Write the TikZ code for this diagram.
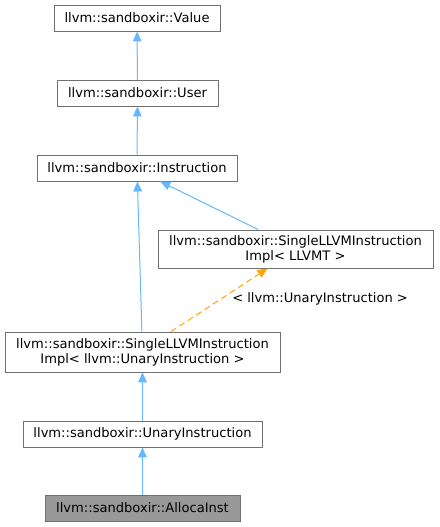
\documentclass[tikz,border=0pt]{standalone}
\usepackage{fontspec}
\setmainfont{DejaVu Sans}
\usepackage{xcolor}
\usetikzlibrary{arrows.meta}
\definecolor{edgeblue}{HTML}{63B8FF}
\definecolor{edgeorange}{HTML}{FFA500}
\definecolor{boxline}{HTML}{707070}
\definecolor{boxgray}{HTML}{999999}
\tikzset{
  classbox/.style={draw=boxline,line width=0.7pt,fill=white,inner sep=0pt,align=center,font=\fontsize{9.8}{11.4}\selectfont},
  thisbox/.style={classbox,fill=boxgray},
  inherit/.style={draw=edgeblue,line width=0.75pt,-{Triangle[length=7.5pt,width=6.5pt]}},
  tmplinherit/.style={draw=edgeorange,line width=0.75pt,dash pattern=on 4.5pt off 3pt,-{Triangle[length=7.5pt,width=6.5pt]}}
}

\begin{document}
\begin{tikzpicture}[x=0.75pt,y=-0.75pt]
  \useasboundingbox (0,0) rectangle (439,527);
  \node[classbox,minimum width=124.5pt,minimum height=19.5pt] (Value) at (137,18) {llvm::sandboxir::Value};
  \node[classbox,minimum width=120.75pt,minimum height=19.5pt] (User) at (137.5,93) {llvm::sandboxir::User};
  \node[classbox,minimum width=150pt,minimum height=19.5pt] (Instruction) at (137,168) {llvm::sandboxir::Instruction};
  \node[classbox,minimum width=206.25pt,minimum height=28.5pt] (ImplLLVMT) at (295.5,249) {llvm::sandboxir::SingleLLVMInstruction\\Impl< LLVMT >};
  \node[classbox,minimum width=206.25pt,minimum height=30pt] (ImplUnary) at (142.5,352) {llvm::sandboxir::SingleLLVMInstruction\\Impl< llvm::UnaryInstruction >};
  \node[classbox,minimum width=179.25pt,minimum height=19.5pt] (UnaryInst) at (142.5,434) {llvm::sandboxir::UnaryInstruction};
  \node[thisbox,minimum width=146.25pt,minimum height=19.5pt] (AllocaInst) at (142.5,508) {llvm::sandboxir::AllocaInst};
  % inheritance edges
  \draw[inherit] (User) -- (Value);
  \draw[inherit] (Instruction) -- (User);
  \draw[inherit] (ImplUnary) -- (Instruction);
  \draw[inherit] ([xshift=-28pt]ImplLLVMT.north) -- ([xshift=17.5pt]Instruction.south);
  \draw[tmplinherit] ([xshift=21.5pt]ImplUnary.north) -- ([xshift=-21pt]ImplLLVMT.south);
  \node[anchor=west,inner sep=0pt,font=\fontsize{9.8}{11.4}\selectfont] (tmplarg) at (232,299) {< llvm::UnaryInstruction >};
  \draw[inherit] (UnaryInst) -- (ImplUnary);
  \draw[inherit] (AllocaInst) -- (UnaryInst);
\end{tikzpicture}
\end{document}
